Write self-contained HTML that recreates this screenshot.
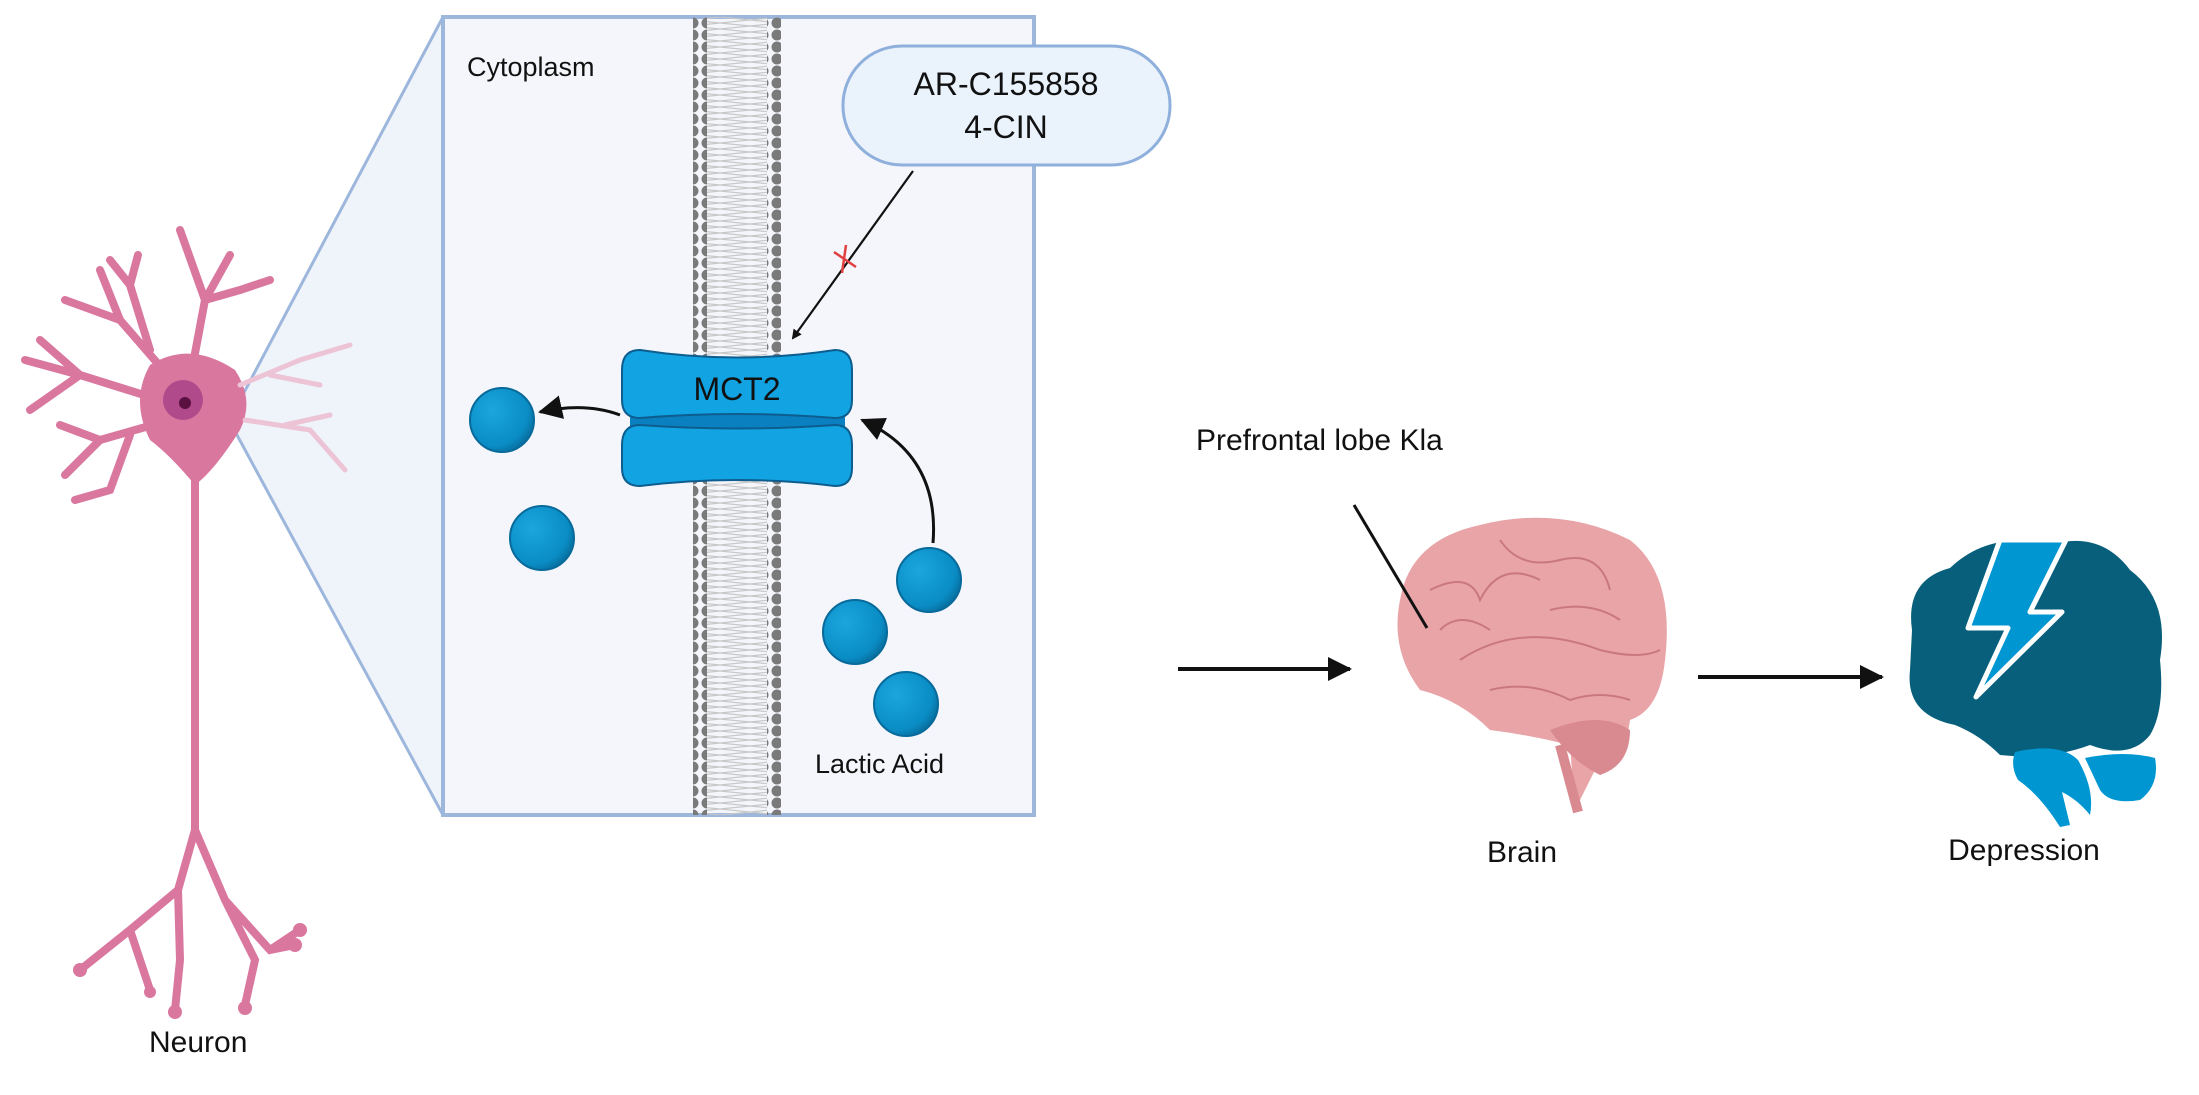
<!DOCTYPE html>
<html><head><meta charset="utf-8"><style>
html,body{margin:0;padding:0;background:#fff}
svg{display:block}
text{font-family:"Liberation Sans",sans-serif;fill:#111}
</style></head><body>
<svg width="2199" height="1095" viewBox="0 0 2199 1095" xmlns="http://www.w3.org/2000/svg">
<defs>
<pattern id="dots" x="0" y="17" width="14" height="12" patternUnits="userSpaceOnUse">
<circle cx="7" cy="6" r="5.5" fill="#7a7a7a"/>
</pattern>
<pattern id="tails" x="0" y="17" width="60" height="6" patternUnits="userSpaceOnUse">
<path d="M0 0 L30 3 L0 6 M60 0 L30 3 L60 6" stroke="#c8c8c8" stroke-width="1.2" fill="none"/>
</pattern>
<radialGradient id="ball" cx="0.35" cy="0.35" r="0.7">
<stop offset="0" stop-color="#1ba6de"/><stop offset="0.8" stop-color="#0a8cc4"/><stop offset="1" stop-color="#0770a0"/>
</radialGradient>
<marker id="ah" markerWidth="10" markerHeight="10" refX="8" refY="5" orient="auto" markerUnits="userSpaceOnUse">
<path d="M0 0 L10 5 L0 10 Z" fill="#111"/>
</marker>
<marker id="ah2" markerWidth="26" markerHeight="24" refX="22" refY="12" orient="auto" markerUnits="userSpaceOnUse">
<path d="M0 0 L24 12 L0 24 Z" fill="#111"/>
</marker>
</defs>

<polygon points="231,417 443,17 443,815 231,424" fill="#e8eef8" opacity="0.7"/>
<line x1="231" y1="417" x2="443" y2="17" stroke="#9db6dc" stroke-width="3"/>
<line x1="231" y1="424" x2="443" y2="815" stroke="#9db6dc" stroke-width="3"/>

<rect x="443" y="17" width="591" height="798" fill="#f4f6fb" stroke="#9db6dc" stroke-width="4"/>
<rect x="707" y="17" width="60" height="798" fill="url(#tails)"/>
<rect x="693" y="17" width="14" height="798" fill="url(#dots)"/>
<rect x="767" y="17" width="14" height="798" fill="url(#dots)"/>

<text x="467" y="76" font-size="27">Cytoplasm</text>

<rect x="843" y="46" width="327" height="119" rx="59" fill="#eaf2fc" stroke="#8fb0dc" stroke-width="3"/>
<text x="1006" y="95" font-size="32" text-anchor="middle">AR-C155858</text>
<text x="1006" y="138" font-size="32" text-anchor="middle">4-CIN</text>

<line x1="913" y1="171" x2="793" y2="338" stroke="#111" stroke-width="2.2" marker-end="url(#ah)"/>
<path d="M834 252 L856 267 M846 245 L842 273" stroke="#e04040" stroke-width="2.5"/>

<rect x="630" y="405" width="215" height="36" fill="#0a80c0"/>
<path d="M640 350 Q737 365 835 350 Q852 350 852 370 L852 400 Q852 418 835 418 Q737 410 640 418 Q622 418 622 400 L622 370 Q622 350 640 350 Z" fill="#11a3e2" stroke="#0d5d8f" stroke-width="2"/>
<path d="M640 425 Q737 432 835 425 Q852 425 852 445 L852 468 Q852 486 835 486 Q737 474 640 486 Q622 486 622 468 L622 445 Q622 425 640 425 Z" fill="#11a3e2" stroke="#0d5d8f" stroke-width="2"/>
<text x="737" y="400" font-size="32" text-anchor="middle">MCT2</text>

<path d="M620 415 Q585 402 540 412" stroke="#111" stroke-width="3" fill="none" marker-end="url(#ah2)"/>
<path d="M933 543 Q940 455 862 420" stroke="#111" stroke-width="3" fill="none" marker-end="url(#ah2)"/>

<g stroke="#076a9a" stroke-width="2">
<circle cx="502" cy="420" r="32" fill="url(#ball)"/>
<circle cx="542" cy="538" r="32" fill="url(#ball)"/>
<circle cx="929" cy="580" r="32" fill="url(#ball)"/>
<circle cx="855" cy="632" r="32" fill="url(#ball)"/>
<circle cx="906" cy="704" r="32" fill="url(#ball)"/>
</g>
<text x="815" y="773" font-size="27">Lactic Acid</text>

<g stroke="#d9779f" fill="none" stroke-linecap="round" stroke-width="8">
<path d="M185 395 L120 320 L65 300 M120 320 L100 270 M150 350 L130 285 L138 255 M130 285 L110 260"/>
<path d="M190 380 L205 300 L180 230 M205 300 L230 255 M205 300 L240 290 L270 280"/>
<path d="M160 400 L80 375 L25 360 M80 375 L40 340 M80 375 L30 410"/>
<path d="M170 420 L100 440 L60 425 M100 440 L65 475 M130 435 L110 490 L75 500"/>
<path d="M195 480 L195 830 L178 890 L130 930 L80 970 M178 890 L180 960 L175 1010 M195 830 L225 900 L270 950 L295 945 M225 900 L255 960 L245 1005 M130 930 L150 990 M270 950 L300 930"/>
</g>
<g fill="#d9779f">
<circle cx="80" cy="970" r="7"/><circle cx="175" cy="1012" r="7"/><circle cx="245" cy="1008" r="7"/><circle cx="300" cy="930" r="7"/><circle cx="295" cy="945" r="7"/><circle cx="150" cy="992" r="6"/>
<path d="M150 365 Q190 340 235 370 Q255 400 240 430 Q215 470 195 485 Q170 455 150 440 Q130 400 150 365 Z"/>
</g>
<g stroke="#ecc4d6" stroke-width="5" fill="none" stroke-linecap="round">
<path d="M240 385 L300 360 L350 345 M270 375 L320 385 M245 420 L310 430 L345 470 M285 425 L330 415"/>
</g>
<circle cx="183" cy="400" r="20" fill="#b04a8a"/>
<circle cx="185" cy="403" r="6" fill="#5a1040"/>
<text x="149" y="1052" font-size="30">Neuron</text>

<line x1="1178" y1="669" x2="1350" y2="669" stroke="#111" stroke-width="4" marker-end="url(#ah2)"/>

<text x="1196" y="450" font-size="30">Prefrontal lobe Kla</text>

<g>
<path d="M1400 600 Q1410 540 1480 525 Q1560 505 1630 540 Q1675 575 1665 660 Q1660 710 1630 720 Q1625 760 1595 770 L1575 810 L1570 745 Q1530 735 1490 730 Q1460 700 1420 690 Q1390 650 1400 600 Z" fill="#e9a4a8"/>
<path d="M1550 730 Q1600 710 1630 730 Q1630 765 1600 775 Q1570 760 1550 730 Z" fill="#d98a90"/>
<path d="M1560 745 L1578 812" stroke="#d98a90" stroke-width="10"/>
<g stroke="#c97880" stroke-width="2" fill="none">
<path d="M1460 660 Q1520 620 1600 650 Q1640 660 1660 650"/>
<path d="M1430 590 Q1470 570 1480 600 Q1500 560 1540 580"/>
<path d="M1500 540 Q1520 570 1560 560 Q1600 550 1610 590"/>
<path d="M1550 610 Q1590 600 1620 620 M1440 630 Q1460 610 1490 630"/>
<path d="M1490 690 Q1530 680 1570 700 Q1600 690 1630 700"/>
</g>
</g>
<line x1="1354" y1="505" x2="1427" y2="628" stroke="#111" stroke-width="3"/>
<text x="1522" y="862" font-size="30" text-anchor="middle">Brain</text>

<line x1="1698" y1="677" x2="1882" y2="677" stroke="#111" stroke-width="4" marker-end="url(#ah2)"/>

<path d="M1912 630 Q1905 580 1950 568 Q1990 530 2050 545 Q2100 530 2130 570 Q2170 600 2160 660 Q2165 710 2150 735 Q2130 760 2090 745 Q2050 760 2000 755 Q1980 735 1955 725 Q1905 715 1910 670 Z" fill="#085f7b"/>
<path d="M2015 752 Q2060 742 2078 760 Q2095 790 2090 815 Q2078 800 2062 792 L2070 825 L2060 827 Q2040 795 2018 780 Q2010 766 2015 752 Z" fill="#0096d1"/>
<path d="M2085 758 Q2125 750 2155 758 Q2160 785 2140 800 Q2110 805 2100 790 Z" fill="#0096d1"/>
<path d="M2000 540 L2066 540 L2030 612 L2062 612 L1976 697 L2008 628 L1968 628 Z" fill="#0096d1" stroke="#fff" stroke-width="5" stroke-linejoin="round"/>
<text x="2024" y="860" font-size="30" text-anchor="middle">Depression</text>
</svg>
</body></html>
